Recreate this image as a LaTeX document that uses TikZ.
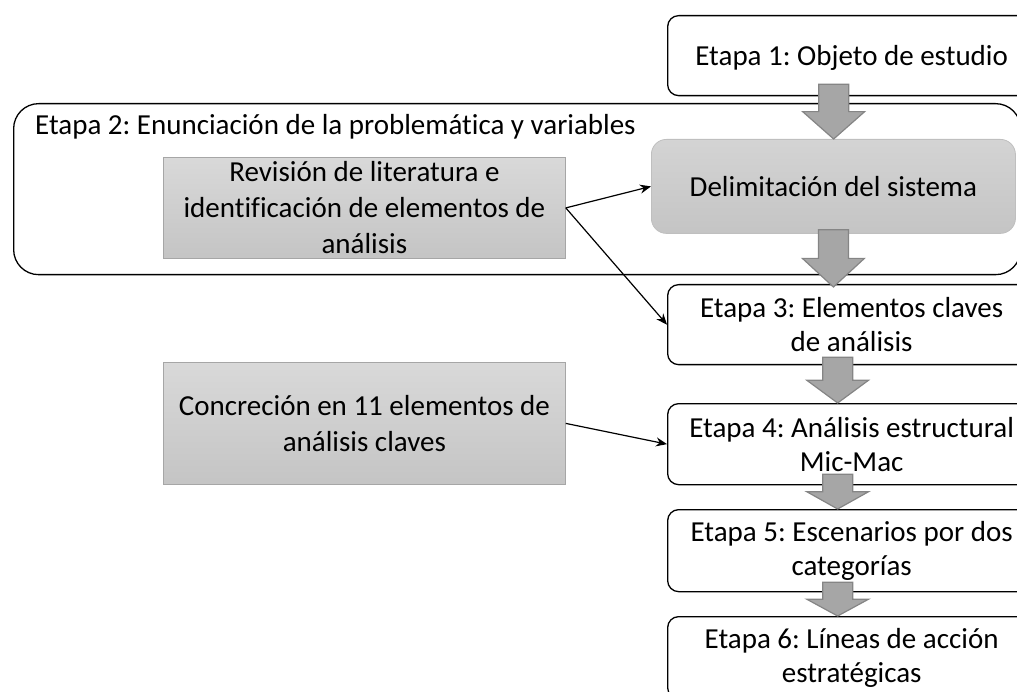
\documentclass[tikz,border=0pt]{standalone}
\usepackage{fontspec}
\setmainfont{Carlito}[Ligatures=NoCommon]
\usetikzlibrary{arrows.meta,calc}

\tikzset{
  etapa/.style={draw=black, line width=1.3pt, rounded corners=11pt, fill=white,
    anchor=north west, minimum width=368pt, minimum height=80pt, inner sep=0pt,
    align=center, font=\fontsize{29}{34}\selectfont},
  graybox/.style={draw=black!35, line width=0.8pt, top color=black!15, bottom color=black!23,
    anchor=north west, minimum width=402pt, inner sep=0pt,
    align=center, font=\fontsize{29}{36}\selectfont},
  delimbox/.style={draw=black!25, line width=0.8pt, rounded corners=15pt,
    top color=black!17, bottom color=black!23, anchor=north west, inner sep=0pt,
    font=\fontsize{29}{34}\selectfont},
  stageframe/.style={draw=black, line width=1.3pt, rounded corners=25pt, anchor=north west},
  blockarrow/.style={fill=black!35, draw=black!48, line width=1.2pt},
  link/.style={-{Stealth[length=11pt,width=9pt]}, line width=1.2pt}
}

% gray block arrow from top point #1 down to tip #2
\newcommand{\blockarrow}[2]{%
  \draw[blockarrow] let \p1 = (#1), \p2 = (#2), \p3 = ($(#1)!0.5!(#2)$) in
    (\x1-15pt,\y1) -- (\x1+15pt,\y1) -- (\x1+15pt,\y3) -- (\x1+31pt,\y3)
    -- (\x1,\y2) -- (\x1-31pt,\y3) -- (\x1-15pt,\y3) -- cycle;}

\begin{document}
\frenchspacing
\begin{tikzpicture}[x=1pt, y=-1pt]
  \useasboundingbox (0,0) rectangle (1017,692);
  \clip (0,0) rectangle (1017,692);

  % etapa 2 frame
  \node[stageframe, minimum width=1007pt, minimum height=171pt] (e2) at (13,103) {};
  \node[anchor=base west, inner sep=0pt, font=\fontsize{29}{34}\selectfont] (e2lab) at (35,135)
    {Etapa 2: Enunciación de la problemática y variables};

  % etapas
  \node[etapa, text depth=-3pt] (e1) at (667,15) {Etapa 1: Objeto de estudio};
  \node[delimbox, minimum width=364pt, minimum height=94pt] (dl) at (651,139) {Delimitación del sistema};
  \node[etapa] (e3) at (667,284) {Etapa 3: Elementos claves\\de análisis};
  \node[etapa, minimum height=81pt] (e4) at (667,403) {Etapa 4: Análisis estructural\\Mic-Mac};
  \node[etapa, minimum height=82pt] (e5) at (667,509) {Etapa 5: Escenarios por dos\\categorías};
  \node[etapa, minimum height=82pt] (e6) at (667,616) {Etapa 6: Líneas de acción\\estratégicas};

  % left boxes
  \node[graybox, minimum height=101pt] (rev) at (163,157)
    {Revisión de literatura e\\identificación de elementos de\\análisis};
  \node[graybox, minimum height=122pt] (conc) at (163,362)
    {Concreción en 11 elementos de\\análisis claves};

  \draw[link] (rev.east) -- (dl.west);
  \draw[link] (rev.east) -- (e3.west);
  \draw[link] (conc.east) -- (e4.west);

  % block arrows
  \coordinate (a1) at ($(e1.south)+(-18,-12)$);
  \coordinate (a2) at ($(dl.south)+(0,-4)$);
  \coordinate (b2) at ($(e3.north)+(0,3)$);
  \coordinate (a3) at ($(e3.south)+(-14,-8)$);
  \coordinate (a4) at ($(e4.south)+(-14,-11)$);
  \coordinate (a5) at ($(e5.south)+(-14,-10)$);
  \foreach \s/\t in {a1/dl.north, a2/b2, a3/e4.north, a4/e5.north, a5/e6.north}
    \blockarrow{\s}{\t};
\end{tikzpicture}
\end{document}
